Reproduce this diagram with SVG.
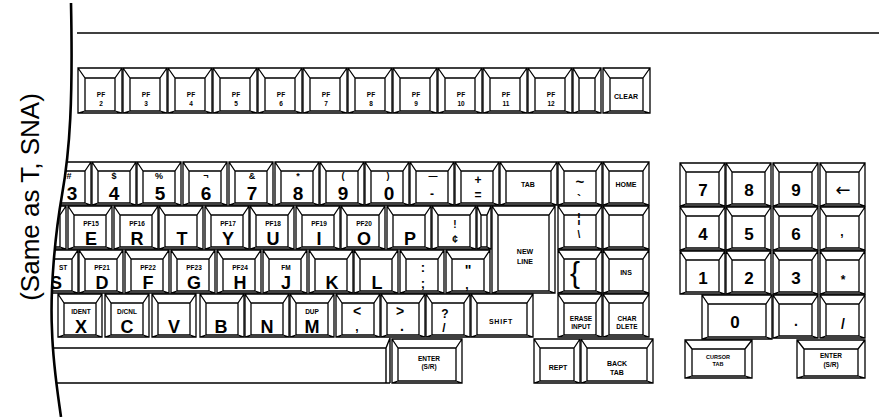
<svg xmlns="http://www.w3.org/2000/svg" width="879" height="417" viewBox="0 0 879 417">
<defs>
<style>
.k{fill:#fff;stroke:#000;stroke-width:1.3}
.ln{fill:none;stroke:#000;stroke-width:1.4}
text{font-family:"Liberation Sans",Arial,sans-serif;font-weight:bold;text-anchor:middle;fill:#000}
.s{font-size:6.5px}
.t{font-size:7px}
.l{font-size:18px}
.d{font-size:19px}
.m{font-size:12px}
.u{font-size:9px}
.p{font-size:17px}
.a{font-family:"DejaVu Sans",sans-serif;font-size:18px;font-weight:normal}
</style>
<path id="k44" class="k" d="M0,0H44V43H0Z M6,9H38V41H6Z M0,0L6,9 M44,0L38,9 M0,43L6,41 M44,43L38,41"/>
<path id="k45" class="k" d="M0,0H45V43H0Z M6,9H39V41H6Z M0,0L6,9 M45,0L39,9 M0,43L6,41 M45,43L39,41"/>
<path id="k46" class="k" d="M0,0H46V43H0Z M6,9H40V41H6Z M0,0L6,9 M46,0L40,9 M0,43L6,41 M46,43L40,41"/>
<path id="k57" class="k" d="M0,0H57V43H0Z M6,9H51V41H6Z M0,0L6,9 M57,0L51,9 M0,43L6,41 M57,43L51,41"/>
<path id="k14" class="k" d="M0,0H14V43H0Z M4,9H10V41H4Z M0,0L4,9 M14,0L10,9 M0,43L4,41 M14,43L10,41"/>
<path id="k62" class="k" d="M0,0H62V43H0Z M6,9H56V41H6Z M0,0L6,9 M62,0L56,9 M0,43L6,41 M62,43L56,41"/>
<path id="nl" class="k" d="M0,0H63V87H0Z M6,9H57V85H6Z M0,0L6,9 M63,0L57,9 M0,87L6,85 M63,87L57,85"/>
<path id="pf44" class="k" d="M0,0H44V45H0Z M7,10H37V43H7Z M0,0L7,10 M44,0L37,10 M0,45L7,43 M44,45L37,43"/>
<path id="pf28" class="k" d="M0,0H28V45H0Z M6,10H22V43H6Z M0,0L6,10 M28,0L22,10 M0,45L6,43 M28,45L22,43"/>
<path id="pf47" class="k" d="M0,0H47V45H0Z M7,10H40V43H7Z M0,0L7,10 M47,0L40,10 M0,45L7,43 M47,45L40,43"/>
<path id="w70" class="k" d="M0,0H70V44H0Z M6,9H64V42H6Z M0,0L6,9 M70,0L64,9 M0,44L6,42 M70,44L64,42"/>
<path id="w46" class="k" d="M0,0H46V44H0Z M6,9H40V42H6Z M0,0L6,9 M46,0L40,9 M0,44L6,42 M46,44L40,42"/>
<path id="w72" class="k" d="M0,0H72V44H0Z M6,9H66V42H6Z M0,0L6,9 M72,0L66,9 M0,44L6,42 M72,44L66,42"/>
<path id="c67" class="k" d="M0,0H67V38H0Z M7,9H60V36H7Z M0,0L7,9 M67,0L60,9 M0,38L7,36 M67,38L60,36"/>
<path id="c68" class="k" d="M0,0H68V38H0Z M7,9H61V36H7Z M0,0L7,9 M68,0L61,9 M0,38L7,36 M68,38L61,36"/>
<clipPath id="cl"><path d="M71,0V3C73,100 70,150 62,195C55,235 50,290 52,330C53,365 58,395 61,417H879V0Z"/></clipPath>
</defs>
<rect width="879" height="417" fill="#fff"/>
<text transform="translate(39,197) rotate(-90)" style="font-size:26px;font-weight:normal">(Same as T, SNA)</text>
<path class="ln" d="M77,33H879"/>

<g id="pf-row">
<g id="pf2"><use href="#pf44" x="78" y="68"/><text class="s" x="101" y="97">PF</text><text class="s" x="101" y="106">2</text></g>
<g id="pf3"><use href="#pf44" x="123" y="68"/><text class="s" x="146" y="97">PF</text><text class="s" x="146" y="106">3</text></g>
<g id="pf4"><use href="#pf44" x="168" y="68"/><text class="s" x="191" y="97">PF</text><text class="s" x="191" y="106">4</text></g>
<g id="pf5"><use href="#pf44" x="213" y="68"/><text class="s" x="236" y="97">PF</text><text class="s" x="236" y="106">5</text></g>
<g id="pf6"><use href="#pf44" x="258" y="68"/><text class="s" x="281" y="97">PF</text><text class="s" x="281" y="106">6</text></g>
<g id="pf7"><use href="#pf44" x="303" y="68"/><text class="s" x="326" y="97">PF</text><text class="s" x="326" y="106">7</text></g>
<g id="pf8"><use href="#pf44" x="348" y="68"/><text class="s" x="371" y="97">PF</text><text class="s" x="371" y="106">8</text></g>
<g id="pf9"><use href="#pf44" x="393" y="68"/><text class="s" x="416" y="97">PF</text><text class="s" x="416" y="106">9</text></g>
<g id="pf10"><use href="#pf44" x="438" y="68"/><text class="s" x="461" y="97">PF</text><text class="s" x="461" y="106">10</text></g>
<g id="pf11"><use href="#pf44" x="483" y="68"/><text class="s" x="506" y="97">PF</text><text class="s" x="506" y="106">11</text></g>
<g id="pf12"><use href="#pf44" x="528" y="68"/><text class="s" x="551" y="97">PF</text><text class="s" x="551" y="106">12</text></g>
<g id="pf-blank"><use href="#pf28" x="573" y="68"/></g>
<g id="clear"><use href="#pf47" x="603" y="68"/><text class="t" x="626" y="99">CLEAR</text></g>
</g>

<g id="main" clip-path="url(#cl)">
<g id="row1">
<g id="k3"><use href="#k44" x="47" y="162"/><text class="u" x="69" y="179">#</text><text class="d" x="72" y="200">3</text></g>
<g id="k4"><use href="#k44" x="92" y="162"/><text class="u" x="114" y="179">$</text><text class="d" x="114" y="200">4</text></g>
<g id="k5"><use href="#k44" x="137" y="162"/><text class="u" x="159" y="179">%</text><text class="d" x="160" y="200">5</text></g>
<g id="k6"><use href="#k44" x="183" y="162"/><text class="u" x="206" y="179">¬</text><text class="d" x="206" y="200">6</text></g>
<g id="k7"><use href="#k44" x="229" y="162"/><text class="u" x="252" y="179">&amp;</text><text class="d" x="252" y="200">7</text></g>
<g id="k8"><use href="#k44" x="275" y="162"/><text class="u" x="298" y="179">*</text><text class="d" x="298" y="200">8</text></g>
<g id="k9"><use href="#k44" x="320" y="162"/><text class="u" x="343" y="179">(</text><text class="d" x="343" y="200">9</text></g>
<g id="k0"><use href="#k44" x="365" y="162"/><text class="u" x="388" y="179">)</text><text class="d" x="389" y="200">0</text></g>
<g id="kminus"><use href="#k44" x="410" y="162"/><text class="u" x="433" y="179">—</text><text class="m" x="432" y="198">-</text></g>
<g id="kequal"><use href="#k44" x="455" y="162"/><text class="m" x="478" y="184">+</text><text class="m" x="478" y="199">=</text></g>
<g id="ktab"><use href="#k57" x="500" y="162"/><text class="t" x="528" y="187">TAB</text></g>
<g id="ktilde"><use href="#k44" x="558" y="162"/><text style="font-size:15px" x="580" y="187">~</text><text class="m" x="579" y="204">`</text></g>
<g id="khome"><use href="#k46" x="603" y="162"/><text class="t" x="626" y="187">HOME</text></g>
</g>

<g id="row2">
<g id="kw"><use href="#k44" x="22" y="206"/></g>
<g id="ke"><use href="#k44" x="68" y="206"/><text class="s" x="91" y="226">PF15</text><text class="l" x="91" y="245">E</text></g>
<g id="kr"><use href="#k44" x="114" y="206"/><text class="s" x="137" y="226">PF16</text><text class="l" x="137" y="245">R</text></g>
<g id="kt"><use href="#k44" x="159" y="206"/><text class="l" x="182" y="245">T</text></g>
<g id="ky"><use href="#k44" x="205" y="206"/><text class="s" x="228" y="226">PF17</text><text class="l" x="228" y="245">Y</text></g>
<g id="ku"><use href="#k44" x="250" y="206"/><text class="s" x="273" y="226">PF18</text><text class="l" x="273" y="245">U</text></g>
<g id="ki"><use href="#k44" x="296" y="206"/><text class="s" x="319" y="226">PF19</text><text class="l" x="319" y="245">I</text></g>
<g id="ko"><use href="#k44" x="341" y="206"/><text class="s" x="364" y="226">PF20</text><text class="l" x="364" y="245">O</text></g>
<g id="kp"><use href="#k44" x="387" y="206"/><text class="l" x="410" y="245">P</text></g>
<g id="kcent"><use href="#k44" x="432" y="206"/><text style="font-size:10px" x="455" y="228">!</text><text style="font-size:10px" x="455" y="243">¢</text></g>
<g id="knarrow"><use href="#k14" x="477" y="206"/></g>
<g id="knewline"><use href="#nl" x="492" y="206"/><text class="t" x="525" y="254">NEW</text><text class="t" x="525" y="264">LINE</text></g>
<g id="kbar"><use href="#k44" x="558" y="206"/><text class="m" x="579" y="222">¦</text><text style="font-size:10px" x="579" y="238">\</text></g>
<g id="kblank2"><use href="#k46" x="603" y="206"/></g>
</g>

<g id="row3">
<g id="ks"><use href="#k44" x="34" y="250"/><text class="s" x="59" y="270" style="text-anchor:start">ST</text><text class="l" x="56" y="289">S</text></g>
<g id="kd"><use href="#k44" x="79" y="250"/><text class="s" x="102" y="270">PF21</text><text class="l" x="102" y="289">D</text></g>
<g id="kf"><use href="#k44" x="125" y="250"/><text class="s" x="148" y="270">PF22</text><text class="l" x="148" y="289">F</text></g>
<g id="kg"><use href="#k44" x="171" y="250"/><text class="s" x="194" y="270">PF23</text><text class="l" x="194" y="289">G</text></g>
<g id="kh"><use href="#k44" x="217" y="250"/><text class="s" x="240" y="270">PF24</text><text class="l" x="240" y="289">H</text></g>
<g id="kj"><use href="#k44" x="263" y="250"/><text class="s" x="286" y="270">FM</text><text class="l" x="286" y="289">J</text></g>
<g id="kk"><use href="#k44" x="309" y="250"/><text class="l" x="332" y="289">K</text></g>
<g id="kl"><use href="#k44" x="354" y="250"/><text class="l" x="377" y="289">L</text></g>
<g id="ksemi"><use href="#k44" x="400" y="250"/><text style="font-size:13px" x="423" y="272">:</text><text style="font-size:13px" x="423" y="288">;</text></g>
<g id="kquote"><use href="#k44" x="446" y="250"/><text style="font-size:14px" x="468" y="275">"</text><text class="m" x="467" y="289">,</text></g>
<g id="kbrace"><use href="#k44" x="558" y="250"/><text style="font-size:30px;font-weight:normal" x="575" y="283">{</text></g>
<g id="kins"><use href="#k46" x="603" y="250"/><text class="t" x="626" y="275">INS</text></g>
</g>

<g id="row4">
<g id="kx"><use href="#k44" x="58" y="294"/><text class="s" x="81" y="314">IDENT</text><text class="l" x="81" y="333">X</text></g>
<g id="kc"><use href="#k44" x="105" y="294"/><text class="s" x="127" y="314">D/CNL</text><text class="l" x="127" y="333">C</text></g>
<g id="kv"><use href="#k44" x="152" y="294"/><text class="l" x="174" y="333">V</text></g>
<g id="kb"><use href="#k44" x="200" y="294"/><text class="l" x="221" y="333">B</text></g>
<g id="kn"><use href="#k44" x="245" y="294"/><text class="l" x="267" y="333">N</text></g>
<g id="km"><use href="#k44" x="290" y="294"/><text class="s" x="312" y="314">DUP</text><text class="l" x="312" y="333">M</text></g>
<g id="klt"><use href="#k44" x="336" y="294"/><text style="font-size:14px" x="357" y="316">&lt;</text><text class="m" x="357" y="331">,</text></g>
<g id="kgt"><use href="#k44" x="381" y="294"/><text style="font-size:14px" x="400" y="316">&gt;</text><text style="font-size:14px" x="402" y="331">.</text></g>
<g id="kq"><use href="#k44" x="426" y="294"/><text class="m" x="445" y="318">?</text><text class="m" x="444" y="332">/</text></g>
<g id="kshift"><use href="#k62" x="471" y="294"/><text class="t" x="501" y="324" style="letter-spacing:0.8px">SHIFT</text></g>
<g id="kerase"><use href="#k44" x="558" y="294"/><text class="s" x="581" y="321">ERASE</text><text class="s" x="581" y="329">INPUT</text></g>
<g id="kchar"><use href="#k46" x="603" y="294"/><text class="s" x="627" y="321">CHAR</text><text class="s" x="627" y="329">DLETE</text></g>
</g>

<g id="row5">
<g id="kspace"><path class="ln" d="M30,348H386V383M386,348L390,338V383M30,383H390"/></g>
<g id="kenter"><use href="#w70" x="392" y="339"/><text class="s" x="429" y="361">ENTER</text><text class="s" x="429" y="369">(S/R)</text></g>
<g id="krept"><use href="#w46" x="534" y="339"/><text class="t" x="558" y="370">REPT</text></g>
<g id="kbacktab"><use href="#w72" x="581" y="339"/><text class="t" x="617" y="366">BACK</text><text class="t" x="617" y="375">TAB</text></g>
</g>
</g>

<g id="keypad">
<g id="p7"><use href="#k45" x="680" y="163"/><text class="p" x="703" y="196">7</text></g>
<g id="p8"><use href="#k45" x="726" y="163"/><text class="p" x="749" y="196">8</text></g>
<g id="p9"><use href="#k45" x="773" y="163"/><text class="p" x="796" y="196">9</text></g>
<g id="pleft"><use href="#k45" x="820" y="163"/><text class="a" x="843" y="196">←</text></g>
<g id="p4"><use href="#k45" x="680" y="207"/><text class="p" x="703" y="240">4</text></g>
<g id="p5"><use href="#k45" x="726" y="207"/><text class="p" x="749" y="240">5</text></g>
<g id="p6"><use href="#k45" x="773" y="207"/><text class="p" x="796" y="240">6</text></g>
<g id="pcomma"><use href="#k45" x="820" y="207"/><text class="m" x="842" y="236">,</text></g>
<g id="p1"><use href="#k45" x="680" y="251"/><text class="p" x="703" y="284">1</text></g>
<g id="p2"><use href="#k45" x="726" y="251"/><text class="p" x="749" y="284">2</text></g>
<g id="p3"><use href="#k45" x="773" y="251"/><text class="p" x="796" y="284">3</text></g>
<g id="pstar"><use href="#k45" x="820" y="251"/><text class="m" x="843" y="284">*</text></g>
<g id="p0"><use href="#w70" x="702" y="295"/><text class="p" x="735" y="328">0</text></g>
<g id="pdot"><use href="#k45" x="773" y="295"/><text style="font-size:14px" x="796" y="326">.</text></g>
<g id="pslash"><use href="#k45" x="820" y="295"/><text style="font-size:14px" x="843" y="329">/</text></g>
<g id="pcursortab"><use href="#c67" x="685" y="340"/><text x="718" y="359" style="font-size:5.5px">CURSOR</text><text x="718" y="366" style="font-size:5.5px">TAB</text></g>
<g id="penter"><use href="#c68" x="797" y="340"/><text class="s" x="831" y="358">ENTER</text><text class="s" x="831" y="367">(S/R)</text></g>
</g>

<g id="connectors"></g>
<path d="M71,3C73,100 70,150 62,195C55,235 50,290 52,330C53,365 58,395 61,417" fill="none" stroke="#000" stroke-width="2.6"/>
</svg>
